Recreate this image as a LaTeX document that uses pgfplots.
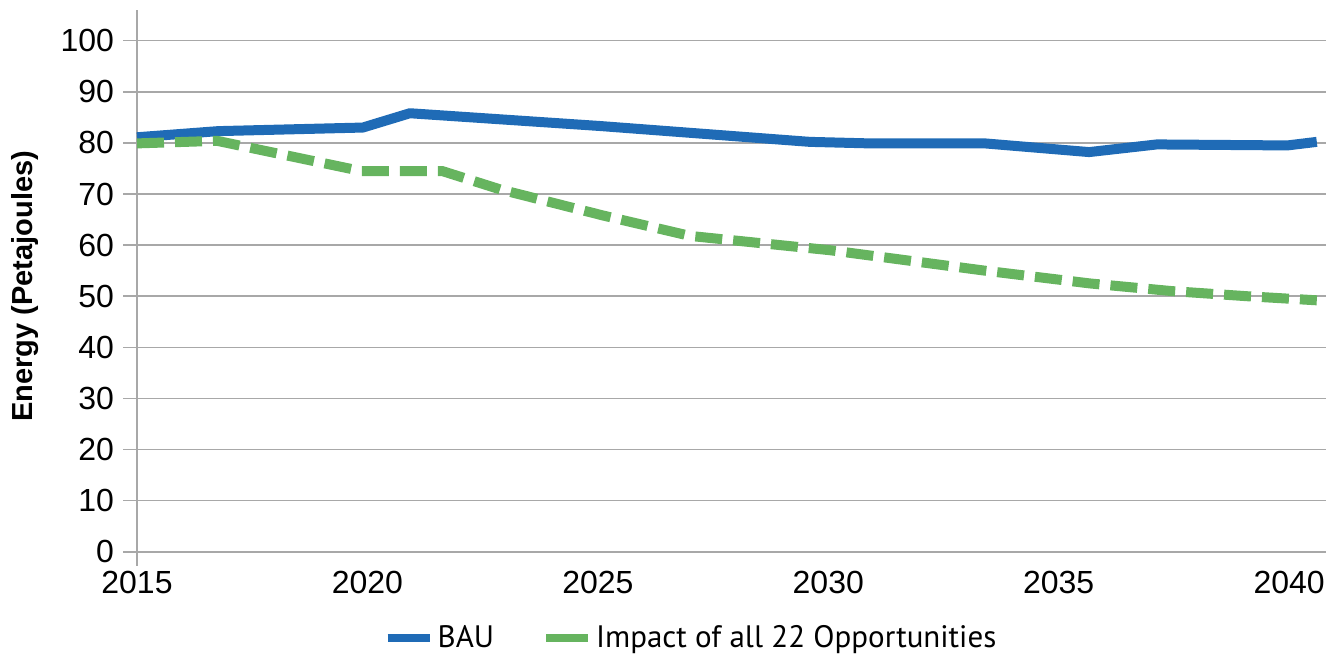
\documentclass[border=0pt]{standalone}
\usepackage{fontspec}
\setmainfont{Liberation Sans}
\newfontfamily\legfont{PT Sans}
\usepackage{pgfplots}
\pgfplotsset{compat=1.18}

\definecolor{baublue}{RGB}{31,107,182}
\definecolor{oppgreen}{RGB}{102,180,95}
\definecolor{gridgray}{RGB}{168,168,168}

\begin{document}
\begin{tikzpicture}
	\begin{axis}[
		at={(0,0)}, anchor=south west,
		scale only axis,
		width=594.5pt, height=270.9pt,
		xmin=2015, xmax=2040.8,
		ymin=0, ymax=106,
		axis x line*=bottom,
		axis y line*=left,
		x axis line style={draw=none, -},
		y axis line style={draw=gridgray, line width=0.8pt, -},
		ytick={0,10,...,100},
		xtick={2015,2020,2025,2030,2035,2040},
		xtick style={draw=none},
		tick align=outside,
		major tick length=7pt,
		ytick style={draw=gridgray, line width=0.8pt},
		ymajorgrids,
		major grid style={draw=gridgray, line width=0.8pt},
		tick label style={font=\fontsize{16}{18}\selectfont},
		/pgf/number format/assume math mode=true,
		/pgf/number format/1000 sep={},
		yticklabel style={xshift=-1pt},
		xticklabel style={yshift=1pt},
		ylabel={Energy (Petajoules)},
		every axis y label/.style={at={(axis description cs:-0.094,0.49)}, rotate=90, anchor=center,
			font=\bfseries\fontsize{14.5}{16}\selectfont},
		legend style={at={(axis description cs:0.4668,-0.159)}, anchor=center,
			draw=none, fill=none, legend columns=2,
			font=\legfont\fontsize{15.5}{17}\selectfont,
			/tikz/every even column/.append style={column sep=22pt}},
		legend cell align=left,
		clip=false,
	]
		\addplot[baublue, line width=5pt, line join=round,
			legend image code/.code={\draw[baublue, line width=4pt] (0pt,0pt) -- (21pt,0pt);}]
			coordinates {
				(2015.00,81.1) (2016.76,82.3) (2019.90,83.0) (2020.92,85.8)
				(2025.05,83.3) (2029.60,80.2) (2030.90,79.9) (2033.40,79.9)
				(2035.66,78.2) (2037.13,79.7) (2039.96,79.5) (2040.60,80.2)
			};
		\addlegendentry{BAU}

		\addplot[oppgreen, line width=5pt, dash pattern=on 13.5pt off 5.5pt,
			legend image code/.code={\draw[oppgreen, line width=4pt, solid] (0pt,0pt) -- (21pt,0pt);}]
			coordinates {
				(2015.00,79.9) (2016.74,80.4) (2019.86,74.5) (2021.62,74.5)
				(2022.88,70.9) (2025.11,65.8) (2027.00,61.8) (2030.04,59.0)
				(2033.40,55.0) (2035.68,52.5) (2037.46,51.0) (2039.09,50.0)
				(2040.60,49.2)
			};
		\addlegendentry{Impact of all 22 Opportunities}

		\draw[gridgray, line width=0.8pt] (rel axis cs:0,0) -- ++(0pt,-7pt);
	\end{axis}
	\pgfresetboundingbox
	\path[use as bounding box] (-68.5pt,-53.15pt) rectangle (600.5pt,275.9pt);
\end{tikzpicture}
\end{document}
